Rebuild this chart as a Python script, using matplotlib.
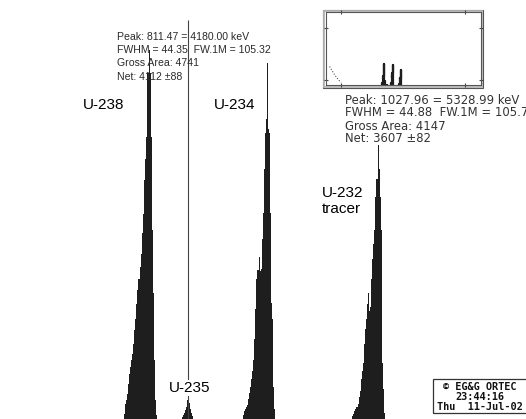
import matplotlib
matplotlib.use('Agg')
import matplotlib.pyplot as plt
from matplotlib.patches import Rectangle
import numpy as np

# ---------------- data (channel counts) ----------------
u238_channels = list(range(787, 819))
u238_counts = [5, 15, 19, 25, 35, 45, 52, 59, 65, 75, 89, 100, 115, 129, 140, 152,
               165, 186, 205, 239, 260, 282, 346, 346, 369, 346, 282, 189, 126, 59, 19, 4]

u235_channels = list(range(842, 853))
u235_counts = [2, 4, 6, 9, 12, 19, 14, 16, 10, 6, 3]

u234_channels = list(range(900, 931))
u234_counts = [4, 8, 10, 12, 14, 20, 26, 32, 40, 48, 59, 80, 110, 140, 149, 162,
               148, 150, 180, 206, 250, 286, 300, 356, 290, 286, 206, 116, 100, 32, 10]

u232_channels = list(range(1004, 1035))
u232_counts = [3, 5, 8, 10, 12, 15, 22, 28, 40, 48, 56, 75, 90, 100, 115, 126,
               108, 112, 140, 160, 175, 189, 222, 240, 274, 250, 222, 189, 56, 30, 6]

cursor_channel = 848

inset_tail_channels = [110, 140, 170, 200, 230, 260]
inset_tail_counts = [330, 260, 190, 130, 80, 45]

peak_labels = ["U-238", "U-235", "U-234", "U-232\ntracer"]

info1 = ["Peak: 811.47 = 4180.00 keV", "FWHM = 44.35  FW.1M = 105.32",
         "Gross Area: 4741", "Net: 4112 \u00b188"]
info2 = ["Peak: 1027.96 = 5328.99 keV", "FWHM = 44.88  FW.1M = 105.71",
         "Gross Area: 4147", "Net: 3607 \u00b182"]
stamp = ["\u00a9 EG&G ORTEC", "23:44:16", "Thu  11-Jul-02"]

# ---------------- figure ----------------
W, H = 526, 419
fig = plt.figure(figsize=(W / 100, H / 100), dpi=100)
fig.patch.set_facecolor('white')
ax = fig.add_axes([0, 0, 1, 1])
ax.set_xlim(669.0, 1168.5)
ax.set_ylim(0, 419)
ax.axis('off')

peaks = [(u238_channels, u238_counts), (u235_channels, u235_counts),
         (u234_channels, u234_counts), (u232_channels, u232_counts)]
for ch, cts in peaks:
    edges = np.append(np.array(ch) - 0.5, ch[-1] + 0.5)
    ax.stairs(cts, edges, fill=True, color='#1e1e1e', linewidth=0)

# cursor line
ax.vlines(cursor_channel, 0, 399, color='#444444', linewidth=0.8, zorder=1)


def ptext(x, y, s, **kw):
    return fig.text(x / W, 1 - y / H, s, **kw)


base = dict(family=['Liberation Sans', 'DejaVu Sans'])

for i, s in enumerate(info1):
    ptext(117, 37 + 13.2 * i, s, ha='left', va='center', fontsize=7.6,
          color='#2a2a2a', **base)
for i, s in enumerate(info2):
    ptext(345, 100 + 13 * i, s, ha='left', va='center', fontsize=8.4,
          color='#333333', family=['DejaVu Sans'])

ptext(104, 105, peak_labels[0], ha='center', va='center', fontsize=11, color='black', **base)
ptext(235, 105, peak_labels[2], ha='center', va='center', fontsize=11, color='black', **base)
ptext(322, 201, peak_labels[3], ha='left', va='center', fontsize=11, color='black',
      linespacing=1.25, **base)
ptext(190, 388, peak_labels[1], ha='center', va='center', fontsize=11, color='black',
      bbox=dict(facecolor='white', edgecolor='none', pad=0.5), **base)

# time stamp box
fig.patches.append(Rectangle((432.5 / W, 1 - 413 / H), 100 / W, 34 / H,
                             transform=fig.transFigure, facecolor='white',
                             edgecolor='#333333', linewidth=0.9))
for i, s in enumerate(stamp):
    ptext(480, 387 + 10 * i, s, ha='center', va='center', fontsize=7.4,
          fontweight='bold', color='#111111', family=['DejaVu Sans Mono'])

# ---------------- inset (full spectrum) ----------------
fig.patches.append(Rectangle((323 / W, 1 - 88 / H), 160 / W, 78 / H,
                             transform=fig.transFigure, facecolor='white',
                             edgecolor='#555555', linewidth=0.8, zorder=-2))
fig.patches.append(Rectangle((324.2 / W, 1 - 86.8 / H), 157.6 / W, 75.6 / H,
                             transform=fig.transFigure, facecolor='none',
                             edgecolor='#b5b5b5', linewidth=1.3, zorder=-1))
axi = fig.add_axes([325.5 / W, 1 - 85.5 / H, 155 / W, 73.5 / H])
axi.set_zorder(2)
x0, x1, y0, y1 = 58, 2049, -15, 1320
axi.set_xlim(x0, x1)
axi.set_ylim(y0, y1)
for sp in axi.spines.values():
    sp.set_color('#555555')
    sp.set_linewidth(0.8)
axi.set_xticks([x0 + 0.103 * (x1 - x0), x0 + 0.897 * (x1 - x0)])
axi.set_yticks([y0 + 0.08 * (y1 - y0), y0 + 0.78 * (y1 - y0)])
axi.tick_params(direction='inout', length=3, width=0.8, color='#444444',
                labelbottom=False, labelleft=False, top=True, right=True)
axi.plot([x0, x1], [0, 0], linestyle=(0, (1, 1.5)), color='#555555', linewidth=0.7)
axi.plot(inset_tail_channels, inset_tail_counts, linestyle=(0, (1, 1.5)),
         color='#555555', linewidth=0.8)
for ch, cts in peaks:
    axi.fill_between(ch, cts, step='mid', color='#1e1e1e', linewidth=1.6,
                     edgecolor='#1e1e1e')

fig.savefig('out.png', dpi=100, facecolor='white')
